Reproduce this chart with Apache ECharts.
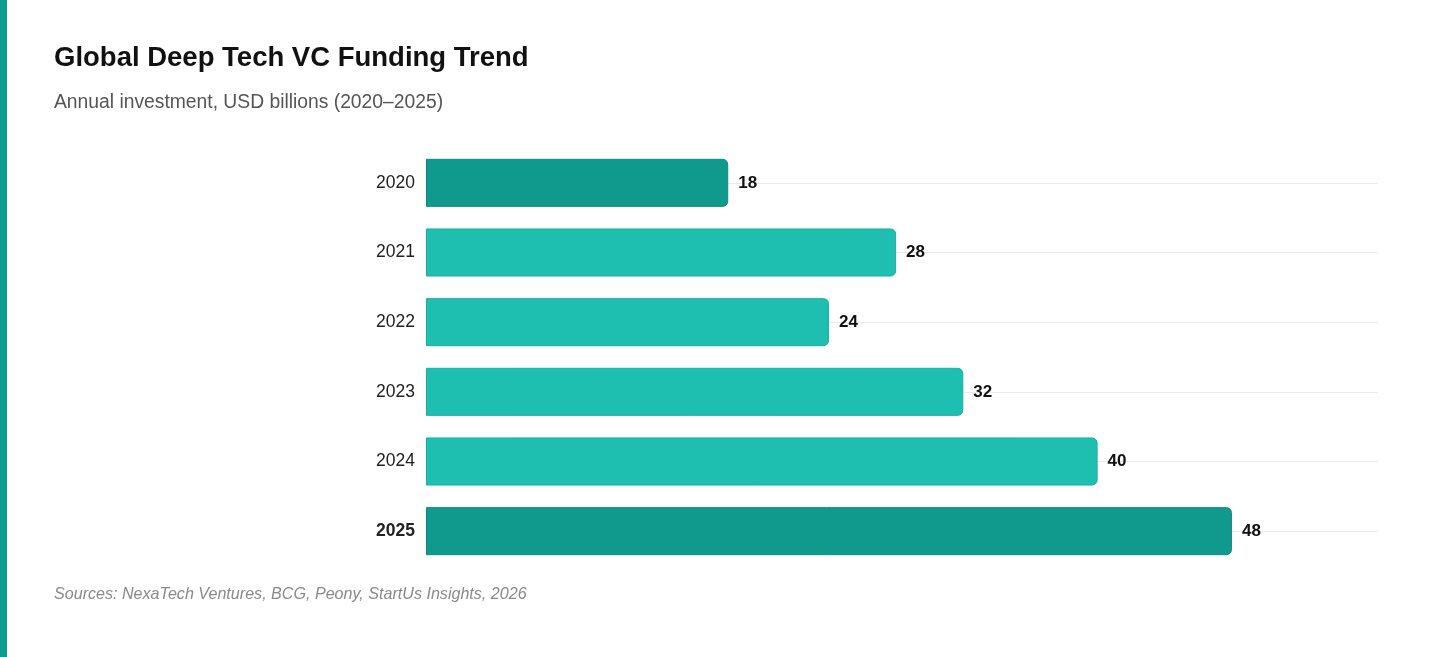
<!DOCTYPE html>
<html>
<head>
<meta charset="utf-8">
<script src="https://cdn.jsdelivr.net/npm/echarts@6/dist/echarts.min.js"></script>
<style>
html, body { margin: 0; padding: 0; background: #fff; }
#main { width: 1456px; height: 657px; }
</style>
</head>
<body>
<div id="main"></div>
<script>
// 年份与投资额（十亿美元）
var years = ['2020', '2021', '2022', '2023', '2024', '2025'];
var funding = [18, 28, 24, 32, 40, 48];
var highlight = ['2020', '2025'];

var darkTeal = '#109a8d';
var lightTeal = '#1ebfb0';

var myecharts = echarts.init(document.getElementById('main'));

var barData = funding.map(function (v, i) {
    var hl = highlight.indexOf(years[i]) >= 0;
    return {
        value: v,
        itemStyle: {
            color: hl ? darkTeal : lightTeal,
            borderColor: hl ? '#0c8c80' : '#17b1a3'
        }
    };
});

var option = {
    backgroundColor: '#fff',
    animation: false,
    title: {
        text: 'Global Deep Tech VC Funding Trend',
        subtext: 'Annual investment, USD billions (2020\u20132025)',
        left: 54,
        top: 44,
        padding: 0,
        itemGap: 21,
        textStyle: {
            fontFamily: 'Liberation Sans',
            fontSize: 27.5,
            fontWeight: 'bold',
            color: '#111'
        },
        subtextStyle: {
            fontFamily: 'Liberation Sans',
            fontSize: 19.3,
            color: '#555'
        }
    },
    graphic: [
        {
            type: 'rect',
            shape: { x: 0, y: 0, width: 7, height: 657 },
            style: { fill: darkTeal }
        },
        {
            type: 'text',
            left: 54,
            top: 587,
            style: {
                text: 'Sources: NexaTech Ventures, BCG, Peony, StartUs Insights, 2026',
                font: 'italic 16.1px "Liberation Sans"',
                fill: '#8a8a8a'
            }
        }
    ],
    grid: {
        left: 426,
        right: 78,
        top: 148,
        bottom: 91
    },
    xAxis: {
        type: 'value',
        min: 0,
        max: 56.7,
        show: false
    },
    yAxis: {
        type: 'category',
        inverse: true,
        data: years,
        axisLine: { show: false },
        axisTick: { show: false },
        splitLine: { show: false },
        axisLabel: {
            margin: 11,
            fontFamily: 'Liberation Sans',
            fontSize: 17.5,
            color: '#222',
            formatter: function (v) {
                return v === '2025' ? '{b|' + v + '}' : v;
            },
            rich: {
                b: {
                    fontFamily: 'Liberation Sans',
                    fontSize: 17.5,
                    fontWeight: 'bold',
                    color: '#222'
                }
            }
        }
    },
    series: [
        {
            name: 'Funding',
            type: 'bar',
            z: 2,
            barCategoryGap: '31%',
            data: barData,
            itemStyle: {
                borderWidth: 1,
                borderRadius: [0, 5, 5, 0]
            },
            label: {
                show: true,
                position: 'right',
                distance: 10,
                fontFamily: 'Liberation Sans',
                fontSize: 17,
                fontWeight: 'bold',
                color: '#111'
            },
            // 横向网格线，放在柱子下面
            markLine: {
                z: 0,
                silent: true,
                symbol: 'none',
                label: { show: false },
                lineStyle: { color: '#ebebeb', width: 1, type: 'solid' },
                data: years.map(function (y) { return { yAxis: y }; })
            }
        }
    ]
};
myecharts.setOption(option);
</script>
</body>
</html>
